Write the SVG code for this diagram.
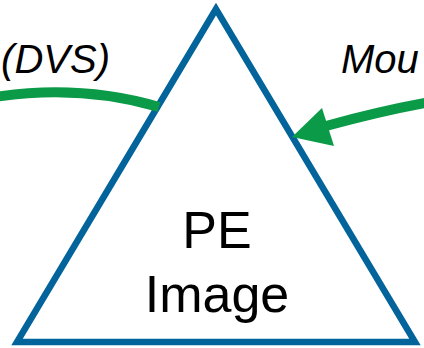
<svg xmlns="http://www.w3.org/2000/svg" width="424" height="348" viewBox="0 0 424 348">
  <style>
    .label { font-family: "Liberation Sans", Arial, sans-serif; fill: #000; }
    .side { font-size: 40px; font-style: italic; }
    .core { font-size: 52px; text-anchor: middle; }
    .flow { fill: none; stroke: #0B9B48; stroke-width: 10; stroke-linecap: butt; }
  </style>
  <rect width="424" height="348" fill="#fff"/>
  <g id="pe-image">
    <polygon points="216,9 17,342 415,342" fill="#fff" stroke="#03649C" stroke-width="6.5" stroke-linejoin="miter"/>
    <text class="label core" x="217" y="248">PE</text>
    <text class="label core" x="217" y="312">Image</text>
  </g>
  <g id="dvs-label">
    <text class="label side" x="110" y="73" text-anchor="end">(DVS)</text>
  </g>
  <g id="mou-label">
    <text class="label side" x="341" y="73">Mou</text>
  </g>
  <g id="connectors">
    <path class="flow" d="M -5 97 Q 80 84 159 107"/>
    <path class="flow" d="M 430 102 Q 380 111 326 126"/>
    <polygon points="292,137 322,108 334,146" fill="#0B9B48"/>
  </g>
</svg>
